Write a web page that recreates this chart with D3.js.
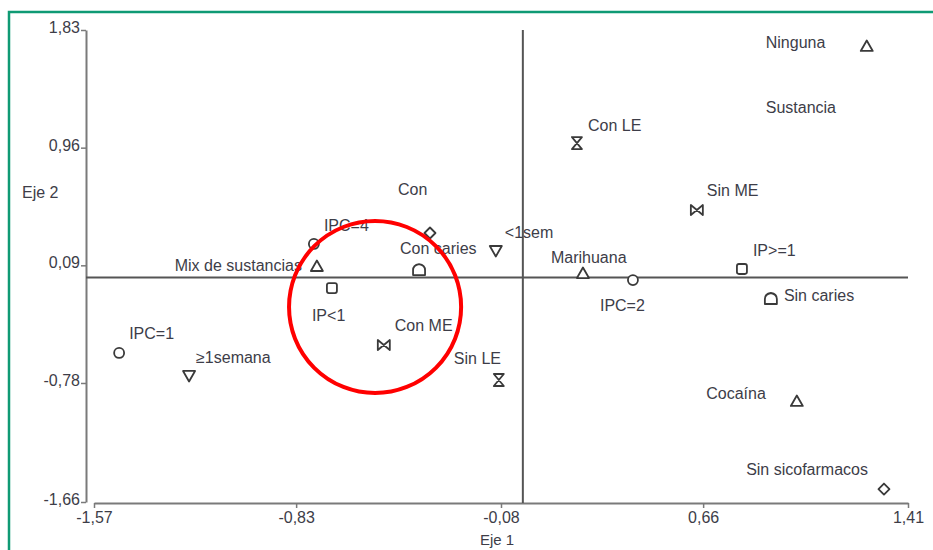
<!DOCTYPE html>
<html>
<head>
<meta charset="utf-8">
<script src="https://cdn.jsdelivr.net/npm/d3@7"></script>
<style>
  body { margin: 0; background: #fff; }
  svg { display: block; font-family: "Liberation Sans", Arial, sans-serif; }
</style>
</head>
<body>
<div id="chart"></div>
<script>
var w = 933
var h = 550

// categories and their coordinates on the two axes
var categories = ["Ninguna", "Marihuana", "Mix de sustancias", "Cocaína",
                  "<1sem", "≥1semana",
                  "IPC=1", "IPC=2", "IPC=4",
                  "IP<1", "IP>=1",
                  "Con caries", "Sin caries",
                  "Con sicofarmacos", "Sin sicofarmacos",
                  "Con LE", "Sin LE",
                  "Con ME", "Sin ME"];
var groups = ["Sustancia", "Sustancia", "Sustancia", "Sustancia",
              "Frecuencia", "Frecuencia",
              "IPC", "IPC", "IPC",
              "IP", "IP",
              "Caries", "Caries",
              "Sicofarmacos", "Sicofarmacos",
              "LE", "LE",
              "ME", "ME"];
var eje1 = [1.259, 0.220, -0.754, 1.003,
            -0.099, -1.222,
            -1.478, 0.403, -0.765,
            -0.699, 0.802,
            -0.380, 0.908,
            -0.340, 1.322,
            0.198, -0.088,
            -0.509, 0.637];
var eje2 = [1.712, 0.033, 0.085, -0.913,
            0.196, -0.728,
            -0.558, -0.019, 0.248,
            -0.078, 0.063,
            0.055, -0.159,
            0.329, -1.564,
            0.994, -0.758,
            -0.499, 0.499];
// text shown next to each point ("|" = second line)
var labels = ["Ninguna|Sustancia", "Marihuana", "Mix de sustancias", "Cocaína",
              "<1sem", "≥1semana",
              "IPC=1", "IPC=2", "IPC=4",
              "IP<1", "IP>=1",
              "Con caries", "Sin caries",
              "Con", "Sin sicofarmacos",
              "Con LE", "Sin LE",
              "Con ME", "Sin ME"];

var xTicks = [-1.57, -0.83, -0.08, 0.66, 1.41];
var yTicks = [-1.66, -0.78, 0.09, 0.96, 1.83];

// layout of the labels (pixel offsets from the point, anchor)
var labelOffsets = [[-101, 2, "start"], [-32, -10, "start"], [-15, 5, "end"], [-31, -2, "end"],
                    [9, -13, "start"], [7, -13, "start"],
                    [10, -14, "start"], [-33, 31, "start"], [10, -13, "start"],
                    [-20, 33, "start"], [11, -13, "start"],
                    [-19, -16, "start"], [13, 2, "start"],
                    [-32, -38, "start"], [-16, -14, "end"],
                    [11, -12, "start"], [-45, -16, "start"],
                    [11, -14, "start"], [10, -14, "start"]];
var lineGap = 65;

// highlighted zone (red ring), in axis units
var highlight = { cx: -0.541, cy: -0.218, rx: 0.315, ry: 0.636 };

var textColor = "#3d3d48";
var markColor = "#3a3a3a";

var x = d3.scaleLinear().domain([-1.57, 1.41]).range([94, 908]);
var y = d3.scaleLinear().domain([-1.66, 1.83]).range([502, 30]);

var fmt = function(d) { return d.toFixed(2).replace(".", ","); };

var svg = d3.select("#chart").append("svg")
    .attr("width", w)
    .attr("height", h);

// green frame (only top and left visible)
svg.append("path")
    .attr("d", "M9," + h + " V12 H" + w)
    .attr("fill", "none")
    .attr("stroke", "#0f9a74")
    .attr("stroke-width", 2.5);

// axes
var xAxis = svg.append("g")
    .attr("transform", "translate(0,503)")
    .call(d3.axisBottom(x).tickValues(xTicks).tickFormat(fmt).tickSize(5).tickSizeOuter(0).tickPadding(4));
var yAxis = svg.append("g")
    .attr("transform", "translate(86,0)")
    .call(d3.axisLeft(y).tickValues(yTicks).tickFormat(fmt).tickSize(5).tickSizeOuter(0).tickPadding(1));

[xAxis, yAxis].forEach(function(a) {
  a.select(".domain").attr("stroke", "#7a7a7a").attr("stroke-width", 2);
  a.selectAll(".tick line").attr("stroke", "#7a7a7a").attr("stroke-width", 1.5);
  a.selectAll(".tick text")
    .attr("fill", textColor)
    .style("font-size", "16px")
    .style("font-family", "'Liberation Sans', Arial, sans-serif");
});
yAxis.selectAll(".tick text").attr("dy", "0.15em");

svg.append("text")
    .attr("x", 497).attr("y", 545)
    .attr("text-anchor", "middle")
    .attr("fill", textColor)
    .style("font-size", "15px")
    .text("Eje 1");
svg.append("text")
    .attr("x", 22).attr("y", 198)
    .attr("fill", textColor)
    .style("font-size", "16px")
    .text("Eje 2");

// reference lines through the origin
svg.append("line")
    .attr("x1", 86).attr("x2", x(1.41))
    .attr("y1", y(0)).attr("y2", y(0))
    .attr("stroke", "#555").attr("stroke-width", 2);
svg.append("line")
    .attr("x1", x(0)).attr("x2", x(0))
    .attr("y1", y(1.83)).attr("y2", 503)
    .attr("stroke", "#555").attr("stroke-width", 2);

// marker shapes for each group
var shapes = {
  "Sustancia":    "M0,-5.5 L6,5 L-6,5 Z",
  "Frecuencia":   "M-6,-5 L6,-5 L0,5.5 Z",
  "IPC":          "M-5,0 A5,5 0 1,1 5,0 A5,5 0 1,1 -5,0 Z",
  "IP":           "M-5,-3 Q-5,-5 -3,-5 H3 Q5,-5 5,-3 V3 Q5,5 3,5 H-3 Q-5,5 -5,3 Z",
  "Caries":       "M-6,5 V0 Q-6,-5 0,-6 Q6,-5 6,0 V5 Z",
  "Sicofarmacos": "M0,-5.5 L5.5,0 L0,5.5 L-5.5,0 Z",
  "LE":           "M-5,-6 H5 L-5,6 H5 Z",
  "ME":           "M-6,-5 V5 L6,-5 V5 Z"
};

var pts = categories.map(function(c, i) {
  return { name: c, group: groups[i], e1: eje1[i], e2: eje2[i], label: labels[i], off: labelOffsets[i] };
});

var g = svg.selectAll(".pt").data(pts).enter()
    .append("g")
      .attr("class", "pt")
      .attr("transform", function(d) { return "translate(" + x(d.e1) + "," + y(d.e2) + ")"; });

g.append("path")
    .attr("d", function(d) { return shapes[d.group]; })
    .attr("fill", "#fff")
    .attr("stroke", markColor)
    .attr("stroke-width", 1.8)
    .attr("stroke-linejoin", "round");

g.each(function(d) {
  var parts = d.label.split("|");
  var sel = d3.select(this);
  parts.forEach(function(p, k) {
    sel.append("text")
      .attr("x", d.off[0])
      .attr("y", d.off[1] + k * lineGap)
      .attr("text-anchor", d.off[2])
      .attr("fill", textColor)
      .style("font-size", "16px")
      .text(p);
  });
});

// red ring around the highlighted zone
svg.append("ellipse")
    .attr("cx", x(highlight.cx))
    .attr("cy", y(highlight.cy))
    .attr("rx", x(highlight.cx + highlight.rx) - x(highlight.cx))
    .attr("ry", y(highlight.cy - highlight.ry) - y(highlight.cy))
    .attr("fill", "none")
    .attr("stroke", "#ff0000")
    .attr("stroke-width", 4);
</script>
</body>
</html>
